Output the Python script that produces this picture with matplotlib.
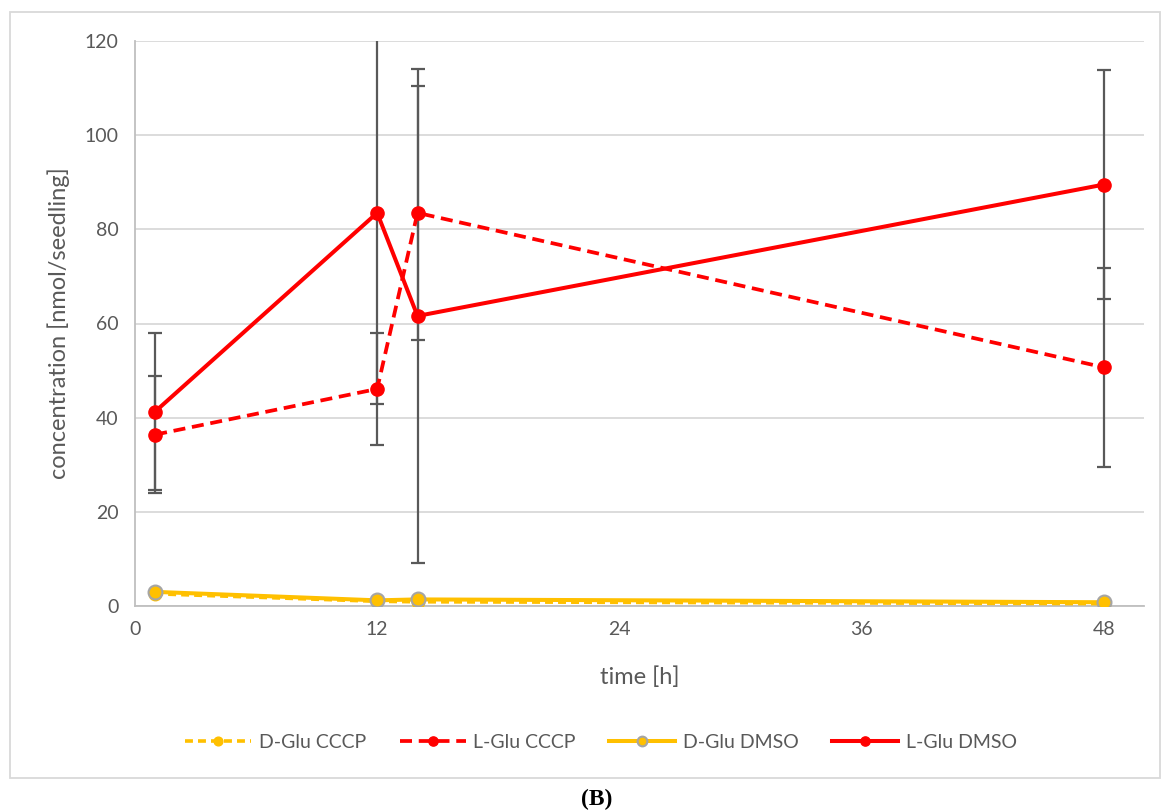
import matplotlib
matplotlib.use("Agg")
import matplotlib.pyplot as plt
from matplotlib.patches import Rectangle

plt.rcParams['font.family'] = ['Lato', 'DejaVu Sans']

# sampling times (h)
time_h = [1, 12, 14, 48]

# L-glutamate, nmol/seedling, with SD
l_glu_dmso = [41.3, 83.5, 61.6, 89.5]
l_glu_dmso_sd = [16.7, 40.5, 52.5, 24.4]
l_glu_cccp = [36.4, 46.1, 83.5, 50.7]
l_glu_cccp_sd = [12.4, 11.9, 27.0, 21.1]

# D-glutamate, nmol/seedling
d_glu_dmso = [3.0, 1.2, 1.4, 0.8]
d_glu_cccp = [2.6, 1.0, 0.9, 0.5]

xticks = [0, 12, 24, 36, 48]
yticks = [0, 20, 40, 60, 80, 100, 120]

grey_txt = '#595959'
red = '#FF0000'
yellow = '#FFC000'

fig = plt.figure(figsize=(11.7, 8.11), dpi=100)
ax = fig.add_axes([135/1170, 1-606/811, (1144-135)/1170, (606-41)/811])

# error bars first so the markers sit on top
ax.errorbar(time_h, l_glu_dmso, yerr=l_glu_dmso_sd, fmt='none', ecolor=grey_txt,
            elinewidth=1.6, capsize=4.8, capthick=1.6, zorder=2)
ax.errorbar(time_h, l_glu_cccp, yerr=l_glu_cccp_sd, fmt='none', ecolor=grey_txt,
            elinewidth=1.6, capsize=4.8, capthick=1.6, zorder=2)

ax.plot(time_h, d_glu_cccp, color=yellow, lw=2.6, dashes=(2.2, 1.4),
        marker='o', ms=9, mfc=yellow, mec=yellow, label='D-Glu CCCP', zorder=3)
ax.plot(time_h, l_glu_cccp, color=red, lw=2.7, dashes=(3.2, 1.8),
        marker='o', ms=9.5, mfc=red, mec=red, label='L-Glu CCCP', zorder=4)
ax.plot(time_h, d_glu_dmso, color=yellow, lw=2.9,
        marker='o', ms=10, mfc=yellow, mec='#A5A5A5', mew=1.5, label='D-Glu DMSO', zorder=3)
ax.plot(time_h, l_glu_dmso, color=red, lw=2.9,
        marker='o', ms=9.5, mfc=red, mec=red, label='L-Glu DMSO', zorder=4)

ax.set_xlim(0, 50)
ax.set_ylim(0, 120)
ax.set_xticks(xticks)
ax.set_yticks(yticks)
ax.tick_params(length=0, labelsize=14, labelcolor=grey_txt)
ax.tick_params(axis='y', pad=12)
ax.tick_params(axis='x', pad=11)
ax.grid(axis='y', color='#D9D9D9', lw=1.3)
ax.set_axisbelow(True)
for s in ['top', 'right']:
    ax.spines[s].set_visible(False)
for s in ['left', 'bottom']:
    ax.spines[s].set_color('#BFBFBF')
    ax.spines[s].set_linewidth(1.3)

ax.set_xlabel('time [h]', fontsize=17, color=grey_txt, labelpad=20)
ax.set_ylabel('concentration [nmol/seedling]', fontsize=17, color=grey_txt, labelpad=10)

leg = fig.legend(loc='center', bbox_to_anchor=(601/1170, 1-742/811), ncol=4,
                 frameon=False, fontsize=14, handlelength=3.4, handletextpad=0.4,
                 columnspacing=1.7, markerscale=0.7)
for t in leg.get_texts():
    t.set_color(grey_txt)

# chart frame
fig.patches.append(Rectangle((10/1170, 1-778/811), 1150/1170, 766/811,
                             transform=fig.transFigure, fill=False,
                             edgecolor='#D9D9D9', lw=1.3))

fig.text(597/1170, 1-799/811, '(B)', ha='center', va='center',
         family='Liberation Serif', fontsize=17, fontweight='bold', color='black')

fig.savefig('out.png', dpi=100)
